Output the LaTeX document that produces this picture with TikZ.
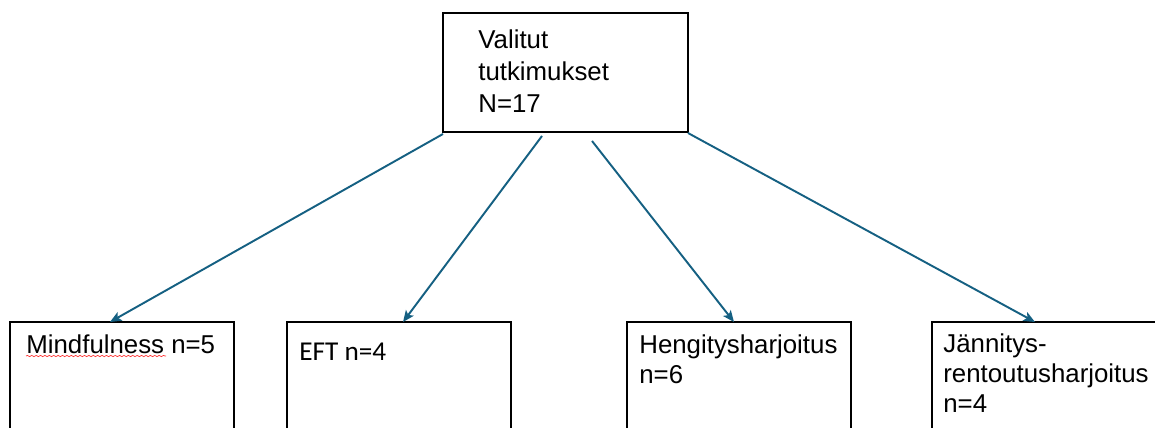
\documentclass[tikz,border=0pt]{standalone}
\usepackage{fontspec}
\setmainfont{Liberation Sans}
\newfontfamily\carlito{Carlito}
\usetikzlibrary{arrows.meta,calc,decorations.pathmorphing}

\definecolor{arrowblue}{HTML}{156082}

\begin{document}
\begin{tikzpicture}[x=0.02cm, y=-0.02cm, ->, >={Stealth[length=6.5pt, width=5.5pt, inset=1.5pt]},
    box/.style={draw, line width=1.3pt, inner sep=0pt, outer sep=0pt, anchor=north west},
    lbl/.style={inner sep=0pt, anchor=base west, align=left,
        font=\fontsize{14.7pt}{17pt}\selectfont},
    link/.style={draw=arrowblue, fill=arrowblue, line width=1.1pt}]
    \useasboundingbox (0,0) rectangle (1155,427);

    % top box
    \node[box, minimum width=4.9cm, minimum height=2.38cm] (all) at (443,13) {};
    \node[lbl, font=\fontsize{14.7pt}{18.1pt}\selectfont]
        (alltxt) at ($(all.north west)+(35,99)$) {Valitut\\tutkimukset\\N=17};

    % bottom boxes
    \node[box, minimum width=4.48cm, minimum height=2.6cm] (mind) at (10,322) {};
    \node[box, minimum width=4.48cm, minimum height=2.6cm] (eft) at (287,322) {};
    \node[box, minimum width=4.48cm, minimum height=2.6cm] (breath) at (627,322) {};
    \node[box, minimum width=4.48cm, minimum height=2.6cm] (relax) at (932,322) {};

    % texts, anchored on their last line
    \node[lbl] (mindtxt) at ($(mind.north west)+(16,31)$) {Mindfulness n=5};
    \node[lbl, font=\carlito\fontsize{15.5pt}{18pt}\selectfont]
        (efttxt) at ($(eft.north west)+(12,38)$) {EFT n=4};
    \node[lbl] (breathtxt) at ($(breath.north west)+(12,61)$) {Hengitysharjoitus\\n=6};
    \node[lbl] (relaxtxt) at ($(relax.north west)+(11,90)$) {Jännitys-\\rentoutusharjoitus\\n=4};

    % spelling mark
    \draw[-, red!80, line width=0.4pt, decorate,
        decoration={snake, amplitude=0.35pt, segment length=2.5pt}]
        ($(mindtxt.base west)+(0,3)$) -- ++(140,0);

    % arrows
    \draw[link] ($(all.south west)+(0,2)$) -- ($(mind.north west)+(100,0)$);
    \draw[link] ($(all.south west)+(99,4)$) -- ($(eft.north west)+(116,0)$);
    \draw[link] ($(all.south west)+(149,9)$) -- ($(breath.north west)+(107,0)$);
    \draw[link] ($(all.south east)+(0,1)$) -- ($(relax.north west)+(103,0)$);
\end{tikzpicture}
\end{document}
